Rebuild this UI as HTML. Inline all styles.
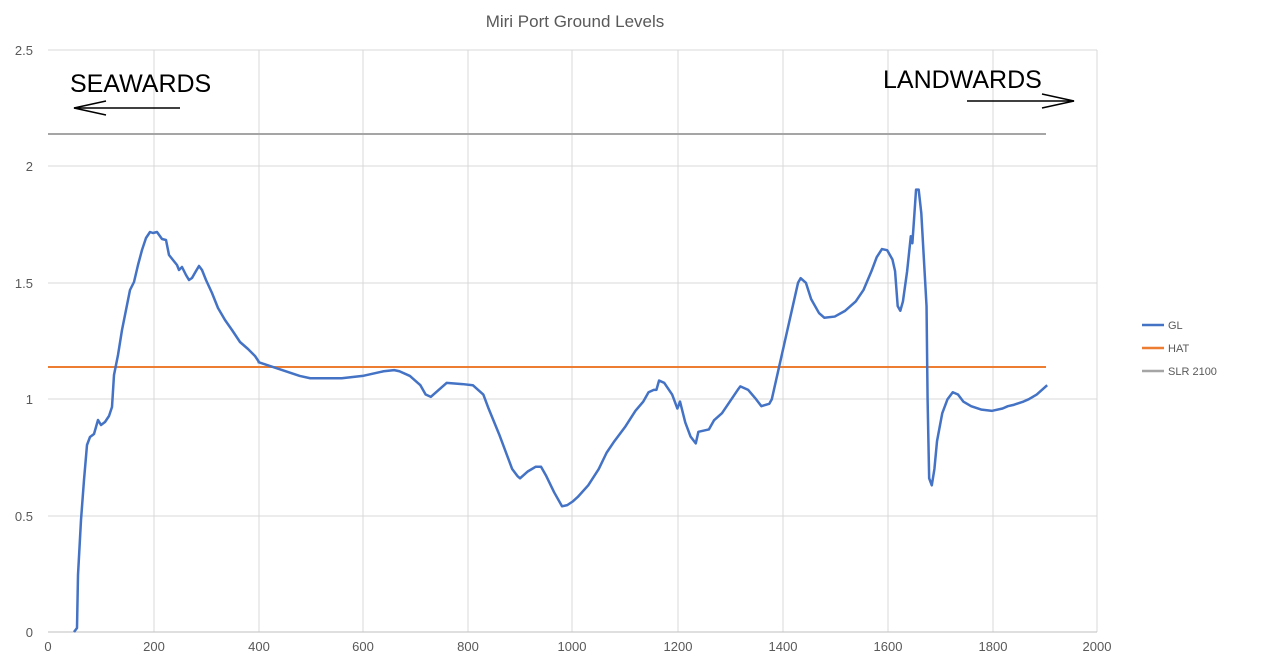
<!DOCTYPE html>
<html><head><meta charset="utf-8"><style>
html,body{margin:0;padding:0;background:#fff;}
svg{display:block;font-family:"Liberation Sans",sans-serif;}
</style></head><body>
<svg width="1263" height="663" viewBox="0 0 1263 663" xmlns="http://www.w3.org/2000/svg">
<rect width="1263" height="663" fill="#fff"/>
<text x="575" y="27" font-size="17" fill="#595959" text-anchor="middle">Miri Port Ground Levels</text>
<g stroke="#d9d9d9" stroke-width="1">
<line x1="48" y1="50" x2="1097" y2="50"/><line x1="48" y1="166" x2="1097" y2="166"/>
<line x1="48" y1="283" x2="1097" y2="283"/><line x1="48" y1="399" x2="1097" y2="399"/>
<line x1="48" y1="516" x2="1097" y2="516"/>
<line x1="154" y1="50" x2="154" y2="632"/><line x1="259" y1="50" x2="259" y2="632"/>
<line x1="363" y1="50" x2="363" y2="632"/><line x1="468" y1="50" x2="468" y2="632"/>
<line x1="572" y1="50" x2="572" y2="632"/><line x1="678" y1="50" x2="678" y2="632"/>
<line x1="783" y1="50" x2="783" y2="632"/><line x1="888" y1="50" x2="888" y2="632"/>
<line x1="993" y1="50" x2="993" y2="632"/><line x1="1097" y1="50" x2="1097" y2="632"/>
</g>
<line x1="48" y1="632" x2="1097" y2="632" stroke="#bfbfbf"/>
<g font-size="13" fill="#595959" text-anchor="end">
<text x="33" y="55">2.5</text><text x="33" y="171">2</text><text x="33" y="288">1.5</text>
<text x="33" y="404">1</text><text x="33" y="521">0.5</text><text x="33" y="637">0</text>
</g>
<g font-size="13" fill="#595959" text-anchor="middle">
<text x="48" y="651">0</text><text x="154" y="651">200</text><text x="259" y="651">400</text>
<text x="363" y="651">600</text><text x="468" y="651">800</text><text x="572" y="651">1000</text>
<text x="678" y="651">1200</text><text x="783" y="651">1400</text><text x="888" y="651">1600</text>
<text x="993" y="651">1800</text><text x="1097" y="651">2000</text>
</g>
<line x1="48" y1="134" x2="1046" y2="134" stroke="#a5a5a5" stroke-width="2"/>
<line x1="48" y1="367" x2="1046" y2="367" stroke="#ed7d31" stroke-width="2"/>
<polyline fill="none" stroke="#4472c4" stroke-width="2.5" stroke-linejoin="round" points="74,632 77,628 78,575 81,520 84,480 87,445 90,437 94,434 98,420 101,425 105,422 109,416 112,407 114,375 118,355 122,330 126,310 130,290 134,282 138,265 142,250 146,238 150,232 153,233 157,232 162,239 166,240 169,255 173,260 177,265 179,270 182,267 186,275 189,280 192,278 196,271 199,266 202,270 206,280 212,293 218,308 225,320 232,330 240,342 248,349 255,356 259,362"/>
<g transform="translate(48,632) scale(0.5245,-232.8)">
<polyline fill="none" stroke="#4472c4" stroke-width="2.5" stroke-linejoin="round" vector-effect="non-scaling-stroke" points="400,1.16 440,1.13 480,1.1 500,1.09 560,1.09 600,1.1 640,1.12 660,1.125 670,1.12 690,1.1 710,1.06 720,1.02 730,1.01 740,1.03 760,1.07 790,1.065 810,1.06 830,1.02 840,0.96 860,0.85 875,0.76 885,0.7 895,0.67 900,0.66 915,0.69 930,0.71 940,0.71 950,0.67 965,0.6 980,0.54 990,0.545 1000,0.56 1010,0.58 1030,0.63 1050,0.7 1065,0.77 1080,0.82 1100,0.88 1120,0.95 1135,0.99 1145,1.03 1155,1.04 1160,1.04 1165,1.08 1175,1.07 1190,1.02 1200,0.96 1205,0.99 1215,0.9 1225,0.84 1235,0.81 1240,0.86 1260,0.87 1270,0.91 1285,0.94 1300,0.99 1315,1.04 1320,1.055 1335,1.04 1350,1.0 1360,0.97 1375,0.98 1380,1.0 1390,1.1 1405,1.25 1420,1.4 1430,1.5 1435,1.52 1445,1.5 1455,1.43 1470,1.37 1480,1.35 1500,1.355 1520,1.38 1540,1.42 1555,1.47 1570,1.55 1580,1.61 1590,1.645 1600,1.64 1610,1.6 1615,1.55 1620,1.4 1625,1.38 1630,1.42 1638,1.55 1645,1.7 1648,1.67 1652,1.8 1655,1.9 1660,1.9 1665,1.8 1670,1.6 1675,1.4 1677,1.0 1680,0.66 1685,0.63 1690,0.7 1695,0.82 1705,0.94 1715,1.0 1725,1.03 1735,1.02 1745,0.99 1760,0.97 1780,0.955 1800,0.95 1820,0.96 1830,0.97 1840,0.975 1860,0.99 1870,1.0 1885,1.02 1900,1.05 1905,1.06"/>
</g>
<text x="70" y="92" font-size="25" fill="#000">SEAWARDS</text>
<line x1="180" y1="108" x2="74" y2="108" stroke="#000" stroke-width="1.5"/>
<polyline points="106,101 74,108 106,115" fill="none" stroke="#000" stroke-width="1.5"/>
<text x="883" y="88" font-size="25" fill="#000">LANDWARDS</text>
<line x1="967" y1="101" x2="1074" y2="101" stroke="#000" stroke-width="1.5"/>
<polyline points="1042,94 1074,101 1042,108" fill="none" stroke="#000" stroke-width="1.5"/>
<line x1="1142" y1="325" x2="1164" y2="325" stroke="#4472c4" stroke-width="2.5"/>
<line x1="1142" y1="348" x2="1164" y2="348" stroke="#ed7d31" stroke-width="2.5"/>
<line x1="1142" y1="371" x2="1164" y2="371" stroke="#a5a5a5" stroke-width="2.5"/>
<g font-size="11" fill="#595959">
<text x="1168" y="329">GL</text><text x="1168" y="352">HAT</text><text x="1168" y="375">SLR 2100</text>
</g>
</svg>
</body></html>
